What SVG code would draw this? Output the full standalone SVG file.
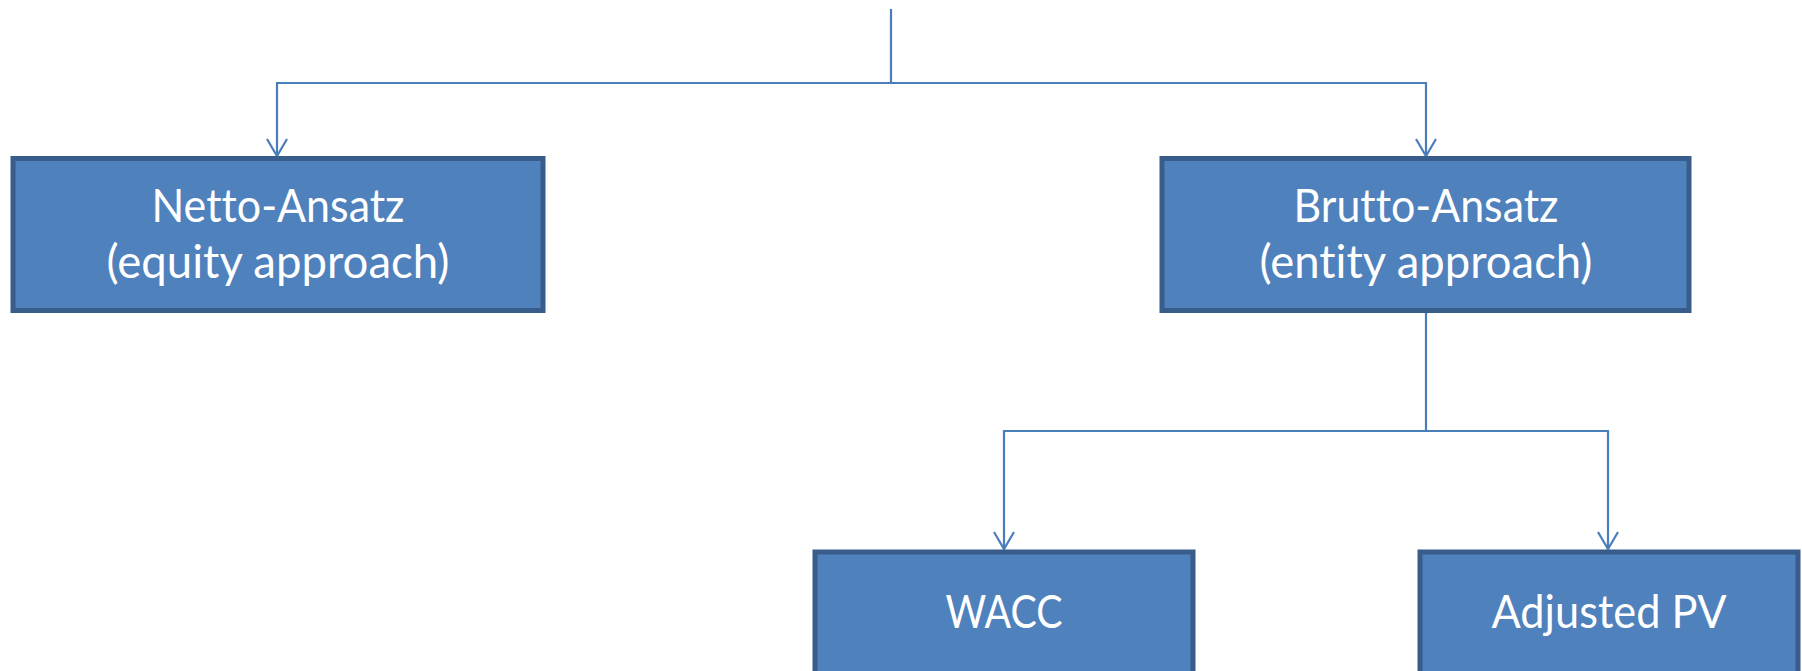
<svg xmlns="http://www.w3.org/2000/svg" width="1802" height="671" viewBox="0 0 1802 671">
  <style>
    .box { fill: #4F81BD; stroke: #385D8A; stroke-width: 5; }
    .lbl { fill: #FFFFFF; font-family: Lato, "Noto Sans", "Liberation Sans", sans-serif; font-size: 46px; text-anchor: middle; font-variant-ligatures: none; }
    .wire { fill: none; stroke: #4A7EBB; stroke-width: 2.2; }
  </style>
  <defs>
    <!-- open V arrowhead, drawn pointing along +x so orient="auto" follows the line -->
    <marker id="vee" markerUnits="userSpaceOnUse" markerWidth="22" markerHeight="24" refX="19" refY="11" orient="auto" viewBox="0 0 22 22">
      <path d="M2,1 L19,11 L2,21" fill="none" stroke="#4A7EBB" stroke-width="2.2"/>
    </marker>
  </defs>
  <rect width="1802" height="671" fill="#FFFFFF"/>

  <g id="connectors">
    <path class="wire" d="M891,9 V83"/>
    <path class="wire" d="M891,83 H277 V156" marker-end="url(#vee)"/>
    <path class="wire" d="M891,83 H1426 V156" marker-end="url(#vee)"/>
    <path class="wire" d="M1426,312 V431"/>
    <path class="wire" d="M1426,431 H1004 V549" marker-end="url(#vee)"/>
    <path class="wire" d="M1426,431 H1608 V549" marker-end="url(#vee)"/>
  </g>

  <g id="netto">
    <rect class="box" x="13" y="158.5" width="530" height="152"/>
    <text class="lbl" x="278" y="222" textLength="253" lengthAdjust="spacingAndGlyphs">Netto-Ansatz</text>
    <text class="lbl" x="278" y="278" textLength="343" lengthAdjust="spacingAndGlyphs">(equity approach)</text>
  </g>

  <g id="brutto">
    <rect class="box" x="1162" y="158.5" width="527" height="152"/>
    <text class="lbl" x="1426" y="222" textLength="265" lengthAdjust="spacingAndGlyphs">Brutto-Ansatz</text>
    <text class="lbl" x="1426" y="278" textLength="333" lengthAdjust="spacingAndGlyphs">(entity approach)</text>
  </g>

  <g id="wacc">
    <rect class="box" x="815" y="552" width="378" height="152"/>
    <text class="lbl" x="1004" y="628" textLength="117" lengthAdjust="spacingAndGlyphs">WACC</text>
  </g>

  <g id="apv">
    <rect class="box" x="1420" y="552" width="378" height="152"/>
    <text class="lbl" x="1609" y="628" textLength="235" lengthAdjust="spacingAndGlyphs">Adjusted PV</text>
  </g>
</svg>
